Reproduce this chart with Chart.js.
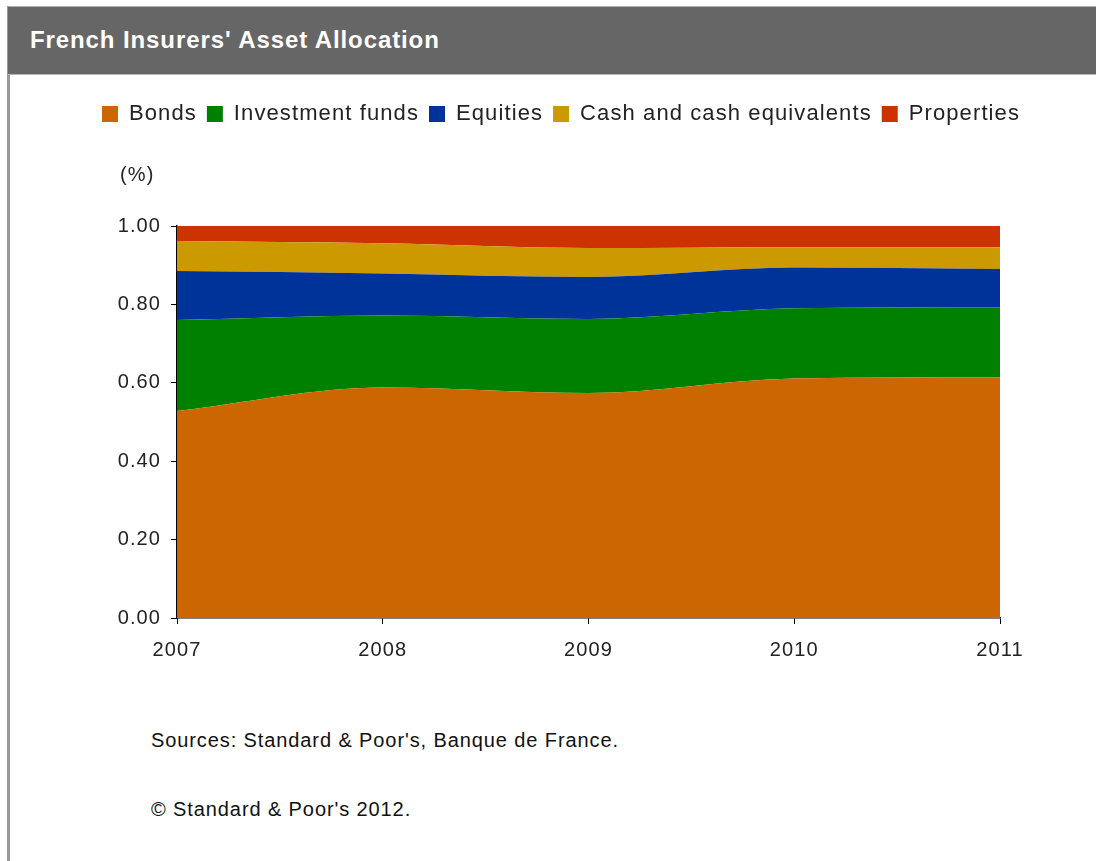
<!DOCTYPE html>
<html>
<head>
<meta charset="utf-8">
<script src="https://cdn.jsdelivr.net/npm/chart.js@4/dist/chart.umd.min.js"></script>
<style>
  html, body { margin: 0; padding: 0; background: #fff; }
  body { width: 1096px; height: 861px; position: relative; overflow: hidden; font-family: "Liberation Sans", Arial, sans-serif; }
  #frame { position: absolute; left: 7px; top: 6px; width: 1100px; height: 900px; border-left: 3px solid #9a9a9a; border-top: 1px solid #b0b0b0; }
  #head { position: absolute; left: 8px; top: 7px; width: 1100px; height: 67px; background: #666666; border-bottom: 1px solid #b8b8b8; }
  #head span { position: absolute; left: 22px; top: 19px; color: #fff; font-weight: bold; font-size: 24px; letter-spacing: 0.9px; }
  #box { position: absolute; left: 10px; top: 76px; width: 1086px; height: 620px; }
  .note { position: absolute; left: 151px; color: #111; font-size: 20px; letter-spacing: 0.9px; }
</style>
</head>
<body>
<div id="frame"></div>
<div id="head"><span>French Insurers' Asset Allocation</span></div>
<div id="box"><canvas id="canvas"></canvas></div>
<div class="note" style="top:729px">Sources: Standard &amp; Poor's, Banque de France.</div>
<div class="note" style="top:798px">© Standard &amp; Poor's 2012.</div>
<script>
const years = ["2007", "2008", "2009", "2010", "2011"];

// shares of total assets, stacked bottom to top
const bonds      = [0.528, 0.588, 0.574, 0.611, 0.614];
const invFunds   = [0.232, 0.184, 0.189, 0.179, 0.179];
const equities   = [0.125, 0.107, 0.107, 0.104, 0.097];
const cash       = [0.077, 0.077, 0.074, 0.052, 0.056];
const properties = [0.038, 0.044, 0.056, 0.054, 0.054];

const yTicks = [0, 0.2, 0.4, 0.6, 0.8, 1.0];

const series = [
    {label: "Bonds", data: bonds, color: "#CC6600"},
    {label: "Investment funds", data: invFunds, color: "#008000"},
    {label: "Equities", data: equities, color: "#003399"},
    {label: "Cash and cash equivalents", data: cash, color: "#CC9900"},
    {label: "Properties", data: properties, color: "#CC3300"},
];

// the old bitmap font is spaced wider than Arial
const spacing = {
    id: "spacing",
    beforeUpdate(chart) { chart.ctx.letterSpacing = "1.1px"; },
    beforeDraw(chart) { chart.ctx.letterSpacing = "1.1px"; },
};

// "(%)" sits over the y labels, not at the canvas edge
const unitLabel = {
    id: "unitLabel",
    afterLayout(chart) {
        if (chart.titleBlock) chart.titleBlock.left = 110;
    },
};

const font = {family: "'Liberation Sans', Arial, sans-serif", size: 20};

new Chart(document.getElementById("canvas"), {
    type: "line",
    data: {
        labels: years,
        datasets: series.map((s, i) => ({
            label: s.label,
            data: s.data,
            backgroundColor: s.color,
            borderColor: s.color,
            borderWidth: 0,
            pointRadius: 0,
            fill: i === 0 ? "origin" : "-1",
            cubicInterpolationMode: "monotone",
        })),
    },
    options: {
        responsive: true,
        maintainAspectRatio: false,
        animation: false,
        events: [],
        layout: {
            padding: {left: 16, right: 0, top: 17, bottom: 0},
        },
        plugins: {
            legend: {
                display: true,
                position: "top",
                labels: {
                    color: "#222",
                    font: {family: font.family, size: 22},
                    boxWidth: 16,
                    boxHeight: 16,
                    padding: 10,
                },
            },
            title: {
                display: true,
                text: "(%)",
                align: "start",
                color: "#222",
                font: {family: font.family, size: 20, weight: "normal"},
                padding: {top: 28, bottom: 39},
                weight: 500,
            },
            tooltip: {enabled: false},
        },
        scales: {
            x: {
                grid: {drawOnChartArea: false, drawTicks: true, tickLength: 6, color: "#000"},
                border: {color: "#000", width: 1.5},
                ticks: {color: "#222", font, padding: 14, maxRotation: 0},
                afterFit(scale) { scale.height = 78; },
            },
            y: {
                stacked: true,
                min: 0,
                max: 1,
                grid: {drawOnChartArea: false, drawTicks: true, tickLength: 6, color: "#000"},
                border: {color: "#000", width: 1.5},
                afterBuildTicks(scale) { scale.ticks = yTicks.map(v => ({value: v})); },
                ticks: {
                    color: "#222",
                    font,
                    padding: 10,
                    callback: v => v.toFixed(2),
                },
                afterFit(scale) { scale.width = 151; },
            },
            // empty right-hand margin
            yRight: {
                position: "right",
                grid: {display: false},
                border: {display: false},
                ticks: {display: false},
                afterFit(scale) { scale.width = 96; },
            },
        },
    },
    plugins: [spacing, unitLabel],
});
</script>
</body>
</html>
